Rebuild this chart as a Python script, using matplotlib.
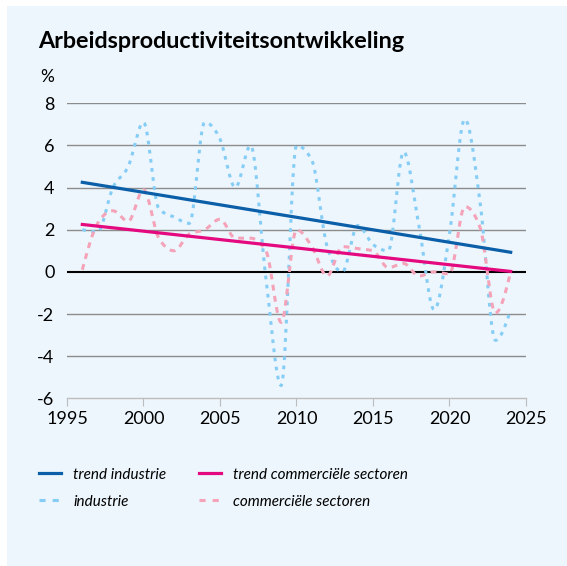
import numpy as np
import matplotlib
matplotlib.use("Agg")
import matplotlib.pyplot as plt
from matplotlib.patches import Rectangle
from matplotlib.lines import Line2D

plt.rcParams['font.family'] = ['Lato', 'DejaVu Sans']
plt.rcParams['axes.unicode_minus'] = False

years = list(range(1996, 2025))
industrie = [2.0, 1.9, 4.0, 5.0, 7.1, 3.0, 2.6, 2.3, 7.1, 6.3, 4.0, 6.0, -0.3, -5.4,
             6.0, 5.3, 1.2, 0.0, 2.2, 1.3, 1.0, 5.7, 2.2, -1.8, 1.8, 7.25, 3.3, -3.25, -1.8]
commercieel = [0.1, 2.3, 2.9, 2.4, 3.9, 1.6, 1.0, 1.8, 2.0, 2.5, 1.6, 1.6, 1.0, -2.4,
               2.0, 1.2, -0.2, 1.2, 1.1, 1.0, 0.2, 0.4, -0.2, 0.0, -0.1, 3.1, 2.1, -1.95, 0.0]
trend_years = [1996, 2024]
trend_industrie = [4.25, 0.93]
trend_commercieel = [2.25, 0.02]

labels = ['trend industrie', 'industrie', 'trend commerciële sectoren', 'commerciële sectoren']
c_trend_ind = '#0b5ea8'
c_trend_com = '#e5097f'
c_ind = '#86cdf6'
c_com = '#f4a3b8'
bg = '#edf6fd'


def smooth(x, y, n=16):
    # monotone cubic curve through the points (same idea as d3 curveMonotoneX)
    x = np.asarray(x, float)
    y = np.asarray(y, float)
    h = np.diff(x)
    s = np.diff(y) / h
    m = np.zeros_like(y)
    for i in range(1, len(y) - 1):
        p = (s[i - 1] * h[i] + s[i] * h[i - 1]) / (h[i - 1] + h[i])
        m[i] = (np.sign(s[i - 1]) + np.sign(s[i])) * min(abs(s[i - 1]), abs(s[i]), 0.5 * abs(p))
    m[0] = (3 * s[0] - m[1]) / 2
    m[-1] = (3 * s[-1] - m[-2]) / 2
    t = np.linspace(0, 1, n, endpoint=False)
    h00 = 2 * t ** 3 - 3 * t ** 2 + 1
    h10 = t ** 3 - 2 * t ** 2 + t
    h01 = -2 * t ** 3 + 3 * t ** 2
    h11 = t ** 3 - t ** 2
    xs, ys = [], []
    for i in range(len(y) - 1):
        xs.extend(x[i] + t * h[i])
        ys.extend(h00 * y[i] + h10 * h[i] * m[i] + h01 * y[i + 1] + h11 * h[i] * m[i + 1])
    xs.append(x[-1])
    ys.append(y[-1])
    return np.array(xs), np.array(ys)


fig = plt.figure(figsize=(5.67, 5.66), dpi=100)
fig.patch.set_facecolor('white')
fig.patches.append(Rectangle((7 / 567, 0), 1, 1 - 6 / 566, transform=fig.transFigure,
                             facecolor=bg, edgecolor='none', zorder=-10))

ax = fig.add_axes([67 / 567, 1 - 398.3 / 566, 459 / 567, 295 / 566])
ax.set_facecolor('none')
ax.set_xlim(1995, 2025)
ax.set_ylim(-6, 8)

for v in [8, 6, 4, 2, -2, -4]:
    ax.axhline(v, color='#8c8c8c', lw=1, zorder=1)
ax.axhline(0, color='black', lw=1.5, zorder=2)

ind_dash = (1.2, 1.8)
com_dash = (1.9, 1.8)
xs, ys = smooth(years, industrie)
ax.plot(xs, ys, color=c_ind, lw=2.2, dashes=ind_dash, zorder=3)
xs, ys = smooth(years, commercieel)
ax.plot(xs, ys, color=c_com, lw=2.2, dashes=com_dash, zorder=3)
ax.plot(trend_years, trend_industrie, color=c_trend_ind, lw=2.3, zorder=4)
ax.plot(trend_years, trend_commercieel, color=c_trend_com, lw=2.3, zorder=4)

for s in ['left', 'right', 'top']:
    ax.spines[s].set_visible(False)
ax.spines['bottom'].set_color('#bdbdbd')
ax.spines['bottom'].set_linewidth(1)
ax.set_xticks(range(1995, 2026, 5))
ax.set_yticks(range(-6, 9, 2))
ax.tick_params(axis='x', length=6, color='#bdbdbd', labelsize=13, pad=3)
ax.tick_params(axis='y', length=0, labelsize=13, pad=9)

fig.text(38 / 567, 1 - 42 / 566, 'Arbeidsproductiviteitsontwikkeling', fontsize=16.8,
         fontweight='bold', va='center', ha='left')
fig.text(40 / 567, 1 - 77 / 566, '%', fontsize=12.5, va='center', ha='left')

handles = [Line2D([], [], color=c_trend_ind, lw=2.3),
           Line2D([], [], color=c_ind, lw=2.2, dashes=(2.0, 2.3)),
           Line2D([], [], color=c_trend_com, lw=2.3),
           Line2D([], [], color=c_com, lw=2.2, dashes=(2.0, 2.3))]
fig.legend(handles, labels, ncol=2, loc='upper left', bbox_to_anchor=(25 / 567, 1 - 454 / 566),
           frameon=False, prop={'style': 'italic', 'size': 11}, handlelength=1.45,
           handletextpad=0.8, columnspacing=2.15, labelspacing=0.85)

fig.savefig('out.png', dpi=100, facecolor=fig.get_facecolor())
